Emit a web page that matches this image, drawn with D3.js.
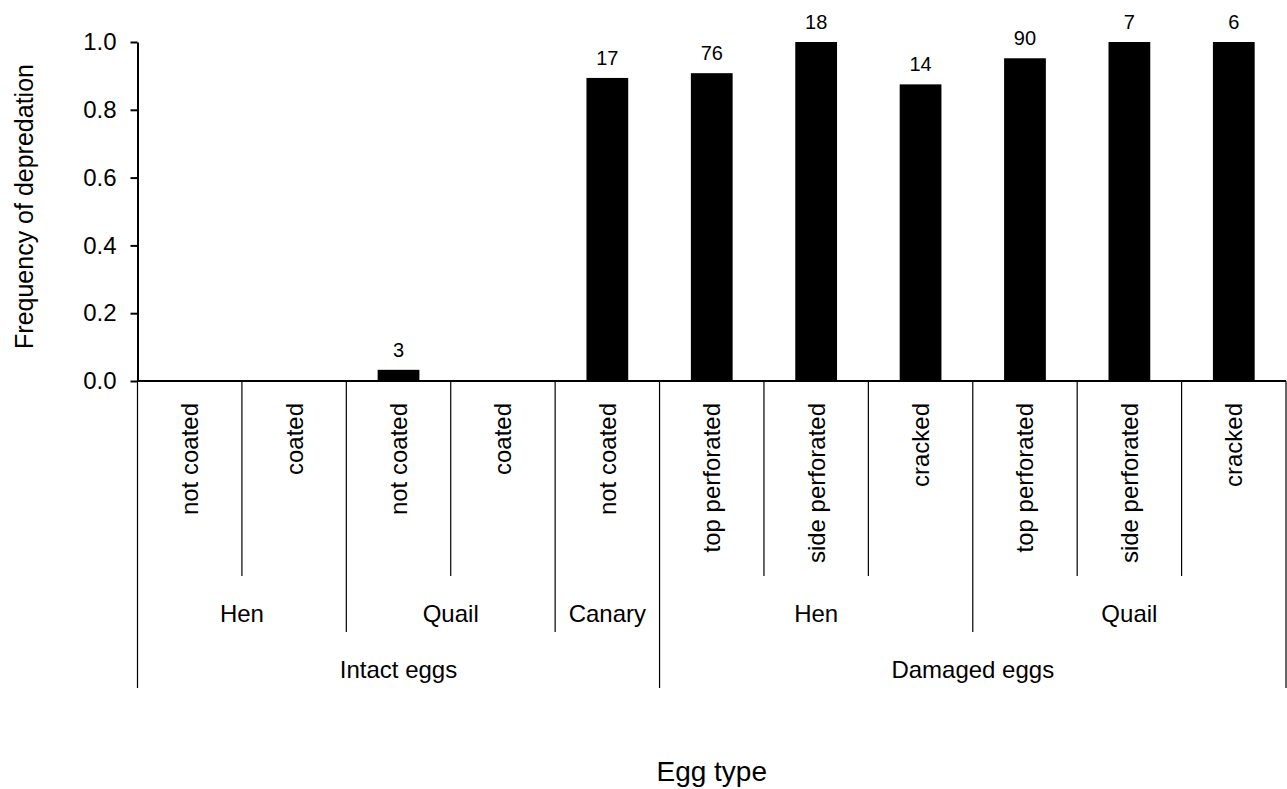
<!DOCTYPE html>
<html>
<head>
<meta charset="utf-8">
<script src="https://cdn.jsdelivr.net/npm/d3@7"></script>
<style>
  body { margin: 0; background: #fff; }
  svg { display: block; font-family: Arial, "Liberation Sans", Helvetica, sans-serif; }
  .axis path, .axis line { stroke: #000; stroke-width: 2; }
  .axis text { font-size: 24px; fill: #000; }
</style>
</head>
<body>
<div id="chart"></div>
<script>
// egg types, one bar each
const CATEGORIES = ['not coated', 'coated', 'not coated', 'coated', 'not coated',
  'top perforated', 'side perforated', 'cracked',
  'top perforated', 'side perforated', 'cracked'];
const FREQ = [0, 0, 0.033, 0, 0.894, 0.908, 1.0, 0.875, 0.952, 1.0, 1.0];
const N_LABELS = ['', '', '3', '', '17', '76', '18', '14', '90', '7', '6'];

// grouping rows below the axis
const SPECIES = ['Hen', 'Quail', 'Canary', 'Hen', 'Quail'];
const SPECIES_SPAN = [2, 2, 1, 3, 3];
const CONDITION = ['Intact eggs', 'Damaged eggs'];
const CONDITION_SPAN = [5, 6];

const Y_TICKS = [0, 0.2, 0.4, 0.6, 0.8, 1.0];

const W = 1287, H = 789;
const m = { top: 42, right: 1, bottom: 408, left: 137.5 };
const iw = W - m.left - m.right;
const ih = H - m.top - m.bottom;

const svg = d3.select('#chart').append('svg')
  .attr('width', W).attr('height', H);

const g = svg.append('g').attr('transform', `translate(${m.left},${m.top})`);

const x = d3.scaleBand()
  .domain(d3.range(CATEGORIES.length))
  .range([0, iw])
  .padding(0);

const y = d3.scaleLinear()
  .domain([0, 1])
  .range([ih, 0]);

const barW = x.bandwidth() * 0.4;

// bars
g.selectAll('rect.bar')
  .data(FREQ)
  .join('rect')
  .attr('class', 'bar')
  .attr('x', (d, i) => x(i) + (x.bandwidth() - barW) / 2)
  .attr('y', d => y(d))
  .attr('width', barW)
  .attr('height', d => ih - y(d))
  .attr('fill', '#000');

// sample sizes above bars
g.selectAll('text.n')
  .data(FREQ)
  .join('text')
  .attr('class', 'n')
  .attr('x', (d, i) => x(i) + x.bandwidth() / 2)
  .attr('y', d => y(d) - 13)
  .attr('text-anchor', 'middle')
  .attr('font-size', '20px')
  .attr('fill', '#000')
  .text((d, i) => N_LABELS[i]);

// y axis
g.append('g')
  .attr('class', 'axis')
  .call(d3.axisLeft(y).tickValues(Y_TICKS).tickFormat(d3.format('.1f'))
    .tickSize(7).tickSizeOuter(0).tickPadding(14));

// baseline
g.append('line')
  .attr('x1', 0).attr('x2', iw)
  .attr('y1', y(0)).attr('y2', y(0))
  .attr('stroke', '#000').attr('stroke-width', 2);

// category separators: depth depends on which grouping changes
const spanEdges = spans => {
  const out = [0];
  spans.forEach(s => out.push(out[out.length - 1] + s));
  return out;
};
const speciesEdges = spanEdges(SPECIES_SPAN);
const condEdges = spanEdges(CONDITION_SPAN);
const edgeX = i => (i < CATEGORIES.length ? x(i) : iw);

const sepDepth = i => {
  if (condEdges.includes(i)) return 307;
  if (speciesEdges.includes(i)) return 251;
  return 195;
};

g.selectAll('line.sep')
  .data(d3.range(CATEGORIES.length + 1))
  .join('line')
  .attr('class', 'sep')
  .attr('x1', i => edgeX(i)).attr('x2', i => edgeX(i))
  .attr('y1', ih).attr('y2', i => ih + sepDepth(i))
  .attr('stroke', '#000').attr('stroke-width', 1.2);

// rotated category labels
g.selectAll('text.cat')
  .data(CATEGORIES)
  .join('text')
  .attr('class', 'cat')
  .attr('transform', (d, i) => `translate(${x(i) + x.bandwidth() / 2 + 8.5},${ih + 22}) rotate(-90)`)
  .attr('text-anchor', 'end')
  .attr('font-size', '24px')
  .attr('fill', '#000')
  .text(d => d);

// species labels
const spCenters = SPECIES.map((s, k) => (edgeX(speciesEdges[k]) + edgeX(speciesEdges[k + 1])) / 2);
g.selectAll('text.sp')
  .data(SPECIES)
  .join('text')
  .attr('class', 'sp')
  .attr('x', (d, k) => spCenters[k])
  .attr('y', ih + 241)
  .attr('text-anchor', 'middle')
  .attr('font-size', '24px')
  .attr('fill', '#000')
  .text(d => d);

// condition labels
const cdCenters = CONDITION.map((c, k) => (edgeX(condEdges[k]) + edgeX(condEdges[k + 1])) / 2);
g.selectAll('text.cd')
  .data(CONDITION)
  .join('text')
  .attr('class', 'cd')
  .attr('x', (d, k) => cdCenters[k])
  .attr('y', ih + 297)
  .attr('text-anchor', 'middle')
  .attr('font-size', '24px')
  .attr('fill', '#000')
  .text(d => d);

// axis titles
svg.append('text')
  .attr('transform', `translate(33,${m.top + ih / 2 - 5}) rotate(-90)`)
  .attr('text-anchor', 'middle')
  .attr('font-size', '25px')
  .attr('fill', '#000')
  .text('Frequency of depredation');

svg.append('text')
  .attr('x', m.left + iw / 2)
  .attr('y', 781)
  .attr('text-anchor', 'middle')
  .attr('font-size', '28px')
  .attr('fill', '#000')
  .text('Egg type');
</script>
</body>
</html>
